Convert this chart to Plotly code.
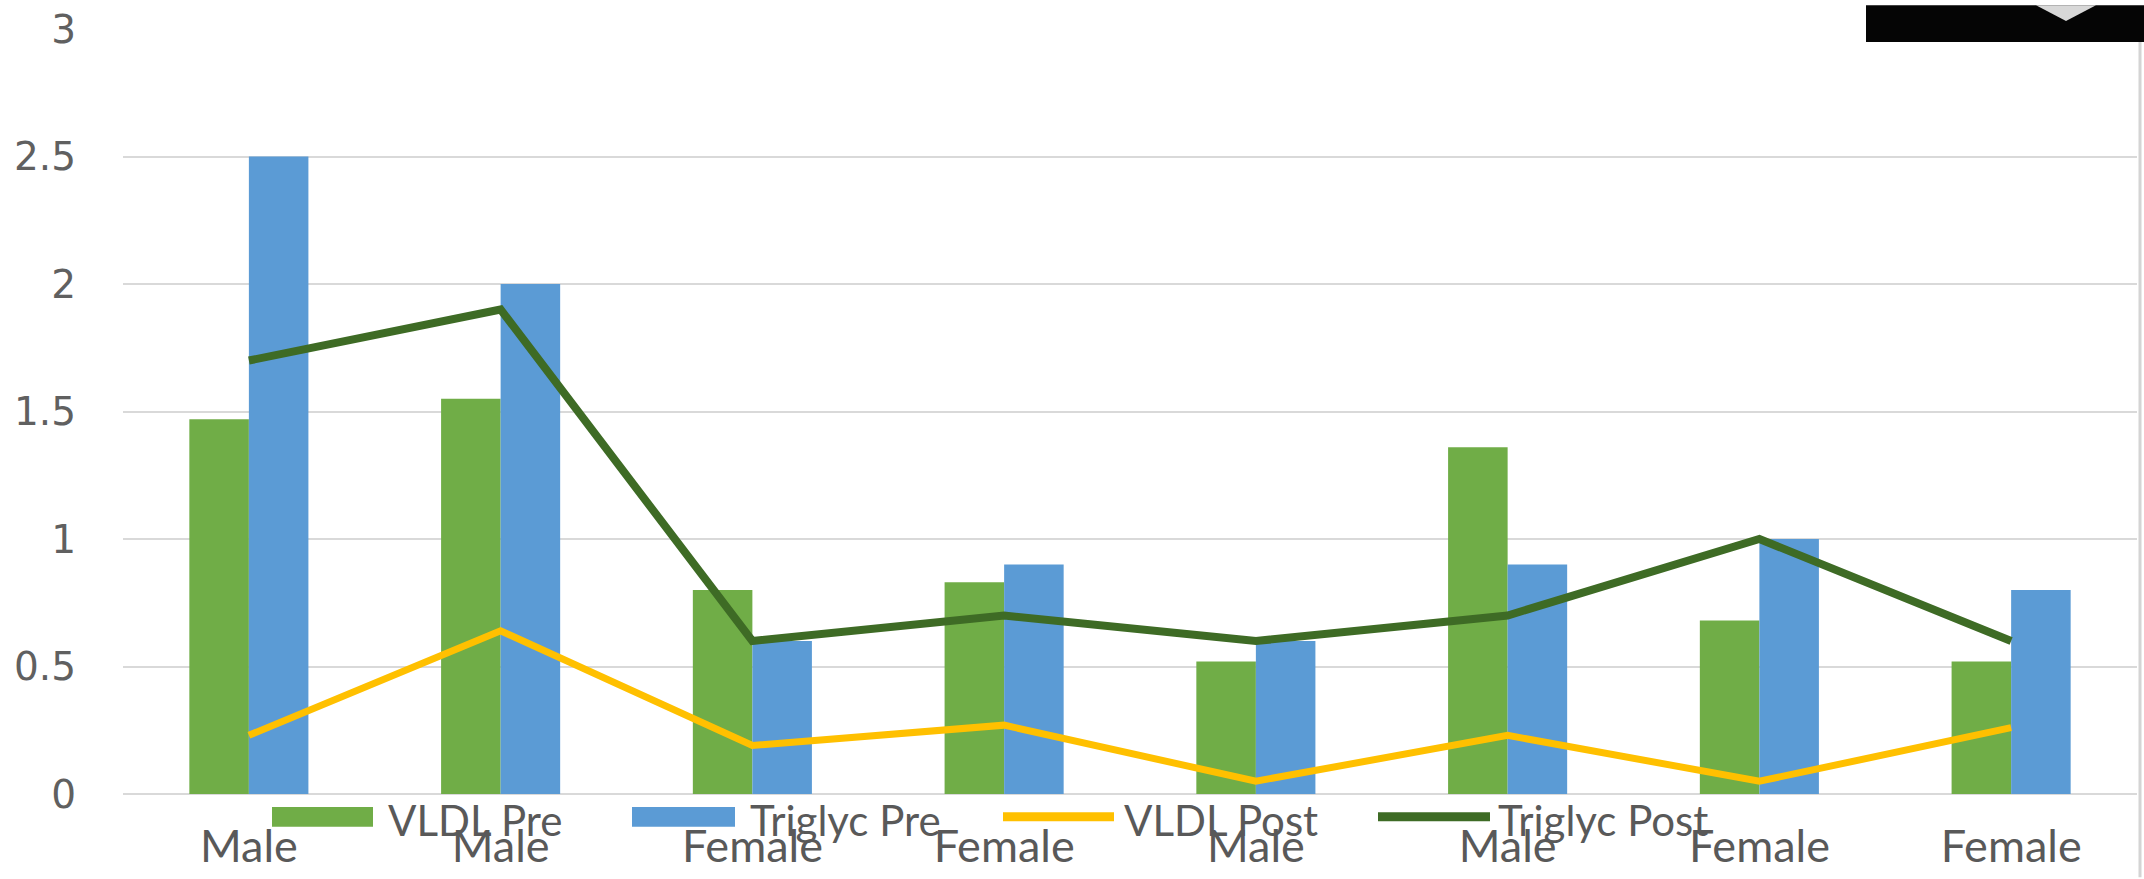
import plotly.graph_objects as go

# Category labels along the x axis
categories = ["Male", "Male", "Female", "Female", "Male", "Male", "Female", "Female"]

# Series values
vldl_pre = [1.47, 1.55, 0.80, 0.83, 0.52, 1.36, 0.68, 0.52]
triglyc_pre = [2.5, 2.0, 0.6, 0.9, 0.6, 0.9, 1.0, 0.8]
vldl_post = [0.23, 0.64, 0.19, 0.27, 0.05, 0.23, 0.05, 0.26]
triglyc_post = [1.7, 1.9, 0.6, 0.7, 0.6, 0.7, 1.0, 0.6]

y_ticks = [0, 0.5, 1, 1.5, 2, 2.5, 3]
y_tick_text = ["0", "0.5", "1", "1.5", "2", "2.5", "3"]

W, H = 2144, 879
L, R, T, B = 123, 7, 24, 84
PW, PH = W - L - R, H - T - B

GREEN = "#70AD47"
BLUE = "#5B9BD5"
YELLOW = "#FFC000"
DARK_GREEN = "#3E6B25"
TEXT = "#595959"
GRID = "#D9D9D9"
FONT = "Lato, Calibri, 'Liberation Sans', sans-serif"


def px(x):
    return (x - L) / PW


def py(y):
    return (H - B - y) / PH


xs = list(range(len(categories)))

fig = go.Figure()
fig.add_trace(go.Bar(x=xs, y=vldl_pre, name="VLDL Pre", marker=dict(color=GREEN, line=dict(width=0))))
fig.add_trace(go.Bar(x=xs, y=triglyc_pre, name="Triglyc Pre", marker=dict(color=BLUE, line=dict(width=0))))
fig.add_trace(go.Scatter(x=xs, y=vldl_post, name="VLDL Post", mode="lines",
                         line=dict(color=YELLOW, width=7)))
fig.add_trace(go.Scatter(x=xs, y=triglyc_post, name="Triglyc Post", mode="lines",
                         line=dict(color=DARK_GREEN, width=8)))

shapes = []
annotations = []

# Legend drawn along the bottom edge
legend_items = [
    ("rect", GREEN, 272, 373, "VLDL Pre", 386),
    ("rect", BLUE, 632, 735, "Triglyc Pre", 748),
    ("line", YELLOW, 1003, 1114, "VLDL Post", 1122),
    ("line", DARK_GREEN, 1378, 1490, "Triglyc Post", 1496),
]
for kind, color, x0, x1, label, tx in legend_items:
    if kind == "rect":
        shapes.append(dict(type="rect", xref="paper", yref="paper",
                           x0=px(x0), x1=px(x1), y0=py(828), y1=py(808),
                           fillcolor=color, line=dict(width=0), layer="above"))
    else:
        shapes.append(dict(type="line", xref="paper", yref="paper",
                           x0=px(x0), x1=px(x1), y0=py(818), y1=py(818),
                           line=dict(color=color, width=9), layer="above"))
    annotations.append(dict(text=label, xref="paper", yref="paper",
                            x=px(tx), y=py(821), xanchor="left", yanchor="middle",
                            showarrow=False, font=dict(family=FONT, size=42, color=TEXT)))

# Dark inset in the top right corner
shapes.append(dict(type="rect", xref="paper", yref="paper",
                   x0=px(1866), x1=px(2144), y0=py(37), y1=py(0),
                   fillcolor="#050505", line=dict(width=0), layer="above"))
shapes.append(dict(type="path", xref="paper", yref="paper",
                   path=f"M {px(2036)},{py(0)} L {px(2096)},{py(0)} L {px(2066)},{py(16)} Z",
                   fillcolor="#D8D8D8", line=dict(width=0), layer="above"))
# Thin border on the right edge
shapes.append(dict(type="line", xref="paper", yref="paper",
                   x0=px(2140), x1=px(2140), y0=py(37), y1=py(879),
                   line=dict(color="#D4D4D4", width=3), layer="above"))

fig.update_layout(
    width=W, height=H,
    margin=dict(l=L, r=R, t=T, b=B, pad=0),
    paper_bgcolor="white", plot_bgcolor="white",
    barmode="group", bargap=0.527, bargroupgap=0,
    showlegend=False,
    shapes=shapes,
    annotations=annotations,
    xaxis=dict(range=[-0.5, 7.5], tickmode="array", tickvals=xs, ticktext=categories,
               showgrid=False, zeroline=False, showline=False, ticks="",
               ticklabelstandoff=22,
               tickfont=dict(family=FONT, size=45, color=TEXT)),
    yaxis=dict(range=[0, 3], tickmode="array", tickvals=y_ticks, ticktext=y_tick_text,
               showgrid=True, gridcolor=GRID, gridwidth=2,
               zeroline=True, zerolinecolor=GRID, zerolinewidth=2,
               showline=False, ticks="", ticklabelstandoff=46,
               tickfont=dict(family="'DejaVu Sans', Verdana, sans-serif", size=39, color="#606060")),
)

fig.write_html("out.html")
